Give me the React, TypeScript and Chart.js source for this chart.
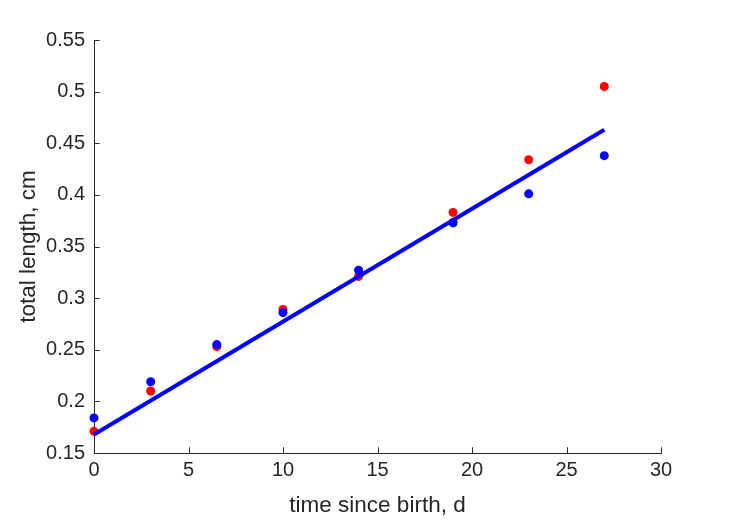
import React, { useEffect, useRef } from "react";
import { Chart, registerables } from "chart.js";

Chart.register(...registerables);

// Data
const timeRed = [0, 3, 6.5, 10, 14, 19, 23, 27];
const lengthRed = [0.171, 0.21, 0.253, 0.289, 0.321, 0.383, 0.434, 0.505];
const timeBlue = [0, 3, 6.5, 10, 14, 19, 23, 27];
const lengthBlue = [0.184, 0.219, 0.255, 0.286, 0.327, 0.373, 0.401, 0.438];
const fitTime = [0, 27];
const fitLength = [0.168, 0.463];

const xTicks = [0, 5, 10, 15, 20, 25, 30];
const xTickLabels = ["0", "5", "10", "15", "20", "25", "30"];
const yTicks = [0.15, 0.2, 0.25, 0.3, 0.35, 0.4, 0.45, 0.5, 0.55];
const yTickLabels = ["0.15", "0.2", "0.25", "0.3", "0.35", "0.4", "0.45", "0.5", "0.55"];

const xTitle = "time since birth, d";
const yTitle = "total length, cm";

const AXIS_COLOR = "#262626";
const TICK_LEN = 5.7;
const FONT = "'Liberation Sans', Arial, sans-serif";

const toPoints = (xs: number[], ys: number[]) => xs.map((x, i) => ({ x, y: ys[i] }));

const inwardTicks = {
  id: "inwardTicks",
  afterDraw(chart: any) {
    const { ctx, chartArea, scales } = chart;
    ctx.save();
    ctx.strokeStyle = AXIS_COLOR;
    ctx.lineWidth = 1;
    ctx.beginPath();
    for (const v of xTicks) {
      const px = Math.round(scales.x.getPixelForValue(v)) + 0.5;
      ctx.moveTo(px, chartArea.bottom);
      ctx.lineTo(px, chartArea.bottom - TICK_LEN);
    }
    for (const v of yTicks) {
      const py = Math.round(scales.y.getPixelForValue(v)) + 0.5;
      ctx.moveTo(chartArea.left, py);
      ctx.lineTo(chartArea.left + TICK_LEN, py);
    }
    ctx.stroke();
    ctx.restore();
  },
};

const whiteBg = {
  id: "whiteBg",
  beforeDraw(chart: any) {
    const { ctx, width, height } = chart;
    ctx.save();
    ctx.fillStyle = "#ffffff";
    ctx.fillRect(0, 0, width, height);
    ctx.restore();
  },
};

export default function App() {
  const canvasRef = useRef<HTMLCanvasElement | null>(null);

  useEffect(() => {
    const canvas = canvasRef.current;
    if (!canvas) return;
    const chart = new Chart(canvas, {
      type: "scatter",
      data: {
        datasets: [
          {
            label: "fit",
            data: toPoints(fitTime, fitLength),
            showLine: true,
            borderColor: "#0000ff",
            backgroundColor: "#0000ff",
            borderWidth: 4,
            pointRadius: 0,
            pointHoverRadius: 0,
            clip: false,
          },
          {
            label: "blue",
            data: toPoints(timeBlue, lengthBlue),
            showLine: false,
            backgroundColor: "#0000ff",
            borderColor: "#0000ff",
            borderWidth: 0,
            pointRadius: 4.5,
            clip: false,
          },
          {
            label: "red",
            data: toPoints(timeRed, lengthRed),
            showLine: false,
            backgroundColor: "#ff0000",
            borderColor: "#ff0000",
            borderWidth: 0,
            pointRadius: 4.5,
            clip: false,
          },
        ],
      },
      options: {
        responsive: false,
        animation: false,
        devicePixelRatio: 1,
        layout: { padding: { top: 40, right: 68, left: 0, bottom: 0 } },
        plugins: {
          legend: { display: false },
          tooltip: { enabled: false },
        },
        scales: {
          x: {
            type: "linear",
            min: 0,
            max: 30,
            afterBuildTicks: (scale: any) => {
              scale.ticks = xTicks.map((v) => ({ value: v }));
            },
            afterFit: (scale: any) => {
              scale.height = 68;
            },
            ticks: {
              color: AXIS_COLOR,
              font: { family: FONT, size: 20 },
              padding: 5,
              maxRotation: 0,
              autoSkip: false,
              callback: (v: any) => {
                const i = xTicks.indexOf(Number(v));
                return i >= 0 ? xTickLabels[i] : "";
              },
            },
            grid: { display: true, drawOnChartArea: false, drawTicks: false, color: "transparent" },
            border: { display: true, color: AXIS_COLOR, width: 1 },
            title: {
              display: true,
              text: xTitle,
              color: AXIS_COLOR,
              font: { family: FONT, size: 22.5 },
              padding: { top: 0, bottom: 2 },
            },
          },
          y: {
            type: "linear",
            min: 0.15,
            max: 0.55,
            afterBuildTicks: (scale: any) => {
              scale.ticks = yTicks.map((v) => ({ value: v }));
            },
            afterFit: (scale: any) => {
              scale.width = 94;
            },
            ticks: {
              color: AXIS_COLOR,
              font: { family: FONT, size: 20 },
              padding: 9,
              autoSkip: false,
              callback: (v: any) => {
                const i = yTicks.findIndex((t) => Math.abs(t - Number(v)) < 1e-9);
                return i >= 0 ? yTickLabels[i] : "";
              },
            },
            grid: { display: true, drawOnChartArea: false, drawTicks: false, color: "transparent" },
            border: { display: true, color: AXIS_COLOR, width: 1 },
            title: {
              display: true,
              text: yTitle,
              color: AXIS_COLOR,
              font: { family: FONT, size: 22.5 },
              padding: { top: 15, bottom: 0 },
            },
          },
        },
      },
      plugins: [whiteBg, inwardTicks],
    } as any);
    return () => chart.destroy();
  }, []);

  return (
    <div style={{ position: "fixed", left: 0, top: 0, width: 729, height: 521, background: "#fff" }}>
      <canvas ref={canvasRef} width={729} height={521} style={{ display: "block", width: 729, height: 521 }} />
    </div>
  );
}
